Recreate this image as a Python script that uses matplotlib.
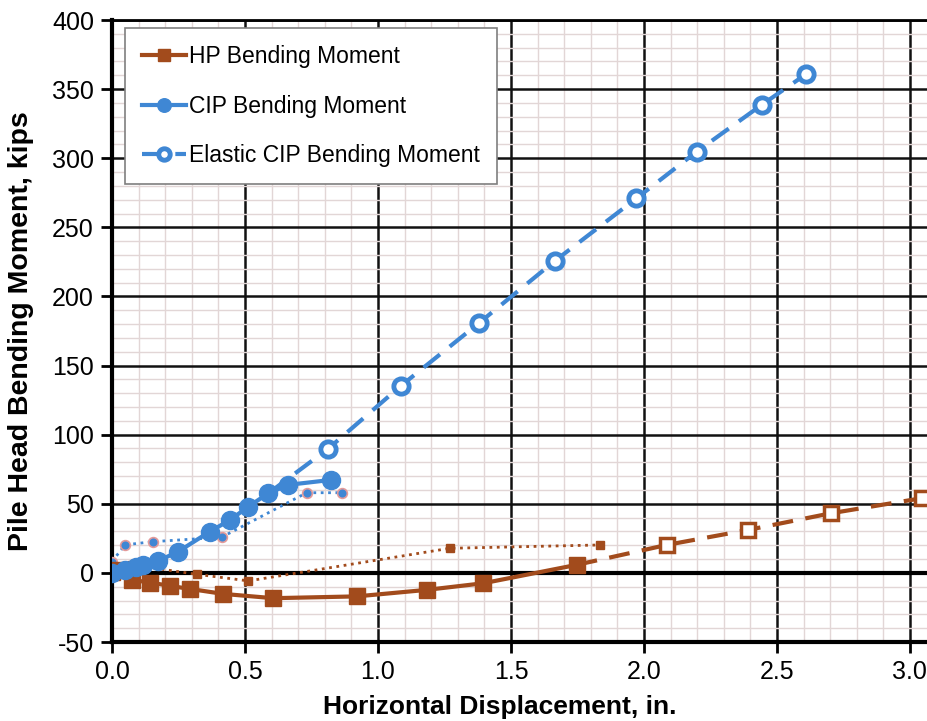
import matplotlib
matplotlib.use("Agg")
import matplotlib.pyplot as plt
from matplotlib.ticker import MultipleLocator

plt.rcParams['font.family'] = ['Liberation Sans', 'DejaVu Sans']
plt.rcParams['axes.unicode_minus'] = False

# HP pile: measured bending moment (solid)
hp_x = [0.0, 0.023, 0.074, 0.143, 0.218, 0.293, 0.418, 0.606, 0.92, 1.183, 1.396, 1.747]
hp_y = [1.0, 2.0, -5.0, -7.0, -9.4, -11.6, -15.2, -18.3, -17.0, -12.3, -7.5, 5.8]

# HP pile: elastic extension (dashed, open squares)
hp_el_x = [1.747, 2.085, 2.392, 2.705, 3.044]
hp_el_y = [5.8, 20.2, 31.1, 43.2, 54.0]

# HP pile: secondary trace (dotted, small squares)
hp_dot_x = [0.0, 0.074, 0.318, 0.513, 1.27, 1.835]
hp_dot_y = [0.0, 5.8, -1.0, -5.8, 17.8, 20.2]

# CIP pile: measured bending moment (solid)
cip_x = [0.0, 0.05, 0.09, 0.118, 0.174, 0.249, 0.368, 0.444, 0.513, 0.588, 0.663, 0.825]
cip_y = [0.0, 2.0, 4.0, 5.8, 8.7, 15.4, 29.9, 38.3, 48.0, 57.6, 63.7, 67.3]

# CIP pile: elastic bending moment (dashed, open circles)
cip_el_x = [0.588, 0.812, 1.086, 1.38, 1.665, 1.972, 2.198, 2.442, 2.611]
cip_el_y = [57.6, 89.7, 135.3, 180.8, 225.7, 271.0, 304.7, 338.5, 361.0]

# CIP pile: secondary trace (dotted, small circles)
cip_dot_x = [0.0, 0.049, 0.155, 0.412, 0.732, 0.863]
cip_dot_y = [8.2, 20.3, 22.6, 25.8, 58.0, 58.0]

brown = '#A24B1C'
blue = '#3F87D4'

fig = plt.figure(figsize=(9.28, 7.21), dpi=100)
ax = fig.add_axes([112 / 928, 1 - 642 / 721, 1 - 112 / 928, (642 - 20) / 721])

ax.set_xlim(0, 3.068)
ax.set_ylim(-50, 400)

ax.xaxis.set_major_locator(MultipleLocator(0.5))
ax.xaxis.set_minor_locator(MultipleLocator(0.1))
ax.yaxis.set_major_locator(MultipleLocator(50))
ax.yaxis.set_minor_locator(MultipleLocator(10))

ax.grid(which='minor', color='#e2d6d6', linewidth=1.0)
ax.grid(which='major', color='#111111', linewidth=1.8)
ax.set_axisbelow(True)
ax.axhline(0, color='black', linewidth=3.0, zorder=1.5)

for s in ['left', 'bottom']:
    ax.spines[s].set_linewidth(3.0)
    ax.spines[s].set_color('black')
ax.spines['top'].set_linewidth(2.0)
ax.spines['right'].set_visible(False)

ax.tick_params(which='major', direction='out', length=8, width=2, labelsize=18, pad=5)
ax.tick_params(which='minor', length=0)
ax.set_xticks([0, 0.5, 1.0, 1.5, 2.0, 2.5, 3.0])
ax.set_xticklabels(['0.0', '0.5', '1.0', '1.5', '2.0', '2.5', '3.0'])

# dotted secondary traces
ax.plot(hp_dot_x, hp_dot_y, linestyle=':', color=brown, linewidth=2.0,
        marker='s', markersize=6, markerfacecolor=brown, markeredgecolor=brown, zorder=3)
ax.plot(cip_dot_x, cip_dot_y, linestyle=':', color=blue, linewidth=2.0,
        marker='o', markersize=7, markerfacecolor=blue, markeredgecolor='#e39a9a',
        markeredgewidth=1.2, zorder=3)

# elastic extensions
ax.plot(hp_el_x, hp_el_y, linestyle=(0, (5, 3)), color=brown, linewidth=3.0,
        marker='s', markersize=10, markerfacecolor='white', markeredgecolor=brown,
        markeredgewidth=2.5, markevery=list(range(1, len(hp_el_x))), zorder=4)
ax.plot(cip_el_x, cip_el_y, linestyle=(0, (5, 3)), color=blue, linewidth=3.0,
        marker='o', markersize=11, markerfacecolor='white', markeredgecolor=blue,
        markeredgewidth=3.5, markevery=list(range(1, len(cip_el_x))), zorder=4,
        label='Elastic CIP Bending Moment')

# measured bending moments
ax.plot(hp_x, hp_y, linestyle='-', color=brown, linewidth=3.0,
        marker='s', markersize=12, markerfacecolor=brown, markeredgecolor=brown, zorder=5,
        label='HP Bending Moment')
ax.plot(cip_x, cip_y, linestyle='-', color=blue, linewidth=3.0,
        marker='o', markersize=13, markerfacecolor=blue, markeredgecolor=blue, zorder=5,
        label='CIP Bending Moment')

handles, labels = ax.get_legend_handles_labels()
order = [labels.index('HP Bending Moment'), labels.index('CIP Bending Moment'),
         labels.index('Elastic CIP Bending Moment')]
leg = ax.legend([handles[i] for i in order], [labels[i] for i in order],
                loc='upper left', bbox_to_anchor=(13 / 816, 1 - 8 / 622),
                borderaxespad=0, fontsize=16.5, handlelength=1.9, handletextpad=0.15,
                labelspacing=1.15, borderpad=0.75, frameon=True, fancybox=False,
                markerscale=0.75)
leg.get_frame().set_edgecolor('#7f7f7f')
leg.get_frame().set_linewidth(1.2)
leg.get_frame().set_facecolor('white')
leg.get_frame().set_alpha(1.0)
leg.set_zorder(10)

ax.set_xlabel('Horizontal Displacement, in.', fontsize=19, fontweight='bold')
ax.set_ylabel('Pile Head Bending Moment, kips', fontsize=20.5, fontweight='bold')
ax.xaxis.set_label_coords((500 - 112) / 816, -0.085)
ax.yaxis.set_label_coords(-(112 - 34) / 816, 0.5)

fig.savefig('out.png', dpi=100)
